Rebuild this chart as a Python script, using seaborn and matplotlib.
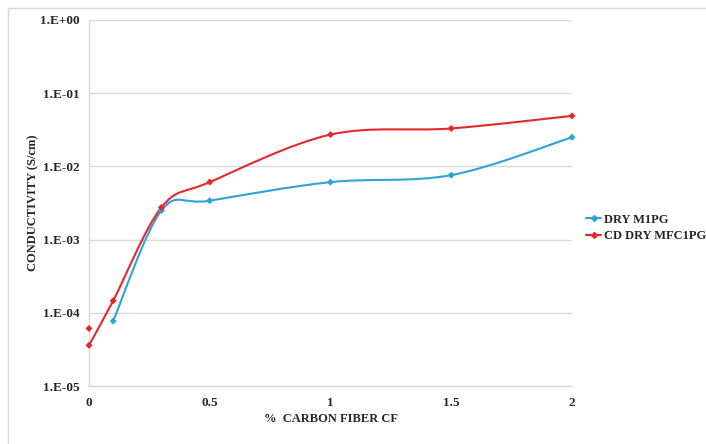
import numpy as np
import pandas as pd
import matplotlib
matplotlib.use("Agg")
import matplotlib.pyplot as plt
from matplotlib.path import Path
from matplotlib.patches import PathPatch, Rectangle
from matplotlib.lines import Line2D
from matplotlib.ticker import FixedLocator, FixedFormatter
import seaborn as sns

# data
x_m1pg = [0.1, 0.3, 0.5, 1.0, 1.5, 2.0]
y_m1pg = [7.7e-5, 2.5e-3, 3.4e-3, 6.1e-3, 7.6e-3, 2.5e-2]
x_mfc = [0.0, 0.1, 0.3, 0.5, 1.0, 1.5, 2.0]
y_mfc = [3.6e-5, 1.46e-4, 2.75e-3, 6.1e-3, 2.72e-2, 3.3e-2, 4.9e-2]
x_mfc_extra = [0.0]
y_mfc_extra = [6.1e-5]

labels = ["DRY M1PG", "CD DRY MFC1PG"]
colors = ["#2ea3d5", "#e4292b"]
yticks = [1e-5, 1e-4, 1e-3, 1e-2, 1e-1, 1e0]
ytick_labels = ["1.E-05", "1.E-04", "1.E-03", "1.E-02", "1.E-01", "1.E+00"]
xticks = [0, 0.5, 1, 1.5, 2]
xtick_labels = ["0", "0.5", "1", "1.5", "2"]


def smooth_path(xs, ys, t=1/6):
    # excel-like smoothed line: bezier segments built in (x, log y) space
    px = np.asarray(xs, float)
    py = np.log10(np.asarray(ys, float))
    n = len(px)
    verts = [(px[0], py[0])]
    codes = [Path.MOVETO]
    for i in range(n - 1):
        a = max(i - 1, 0)
        b = min(i + 2, n - 1)
        c1 = (px[i] + (px[i + 1] - px[a]) * t, py[i] + (py[i + 1] - py[a]) * t)
        c2 = (px[i + 1] - (px[b] - px[i]) * t, py[i + 1] - (py[b] - py[i]) * t)
        verts += [c1, c2, (px[i + 1], py[i + 1])]
        codes += [Path.CURVE4] * 3
    verts = [(vx, 10 ** vy) for vx, vy in verts]
    return Path(verts, codes)


sns.set_style("white")
plt.rcParams["font.family"] = ["Liberation Serif", "DejaVu Serif"]
plt.rcParams["font.weight"] = "bold"

fig = plt.figure(figsize=(7.06, 4.44), dpi=100)
ax = fig.add_axes([89 / 706, 1 - 386 / 444, (572 - 89) / 706, (386 - 20) / 444])

# outer chart frame
fig.patches.append(Rectangle((8 / 706, -0.05), 1.0, 1 - 8 / 444 + 0.05,
                             transform=fig.transFigure, fill=False,
                             edgecolor="#d9d9d9", lw=1))

ax.set_yscale("log")
ax.set_xlim(0, 2)
ax.set_ylim(1e-5, 1)

for xs, ys, c in [(x_m1pg, y_m1pg, colors[0]), (x_mfc, y_mfc, colors[1])]:
    ax.add_patch(PathPatch(smooth_path(xs, ys), facecolor="none",
                           edgecolor=c, lw=1.5, zorder=3, clip_on=False))

df = pd.concat([
    pd.DataFrame({"x": x_m1pg, "y": y_m1pg, "s": labels[0]}),
    pd.DataFrame({"x": x_mfc, "y": y_mfc, "s": labels[1]}),
    pd.DataFrame({"x": x_mfc_extra, "y": y_mfc_extra, "s": labels[1]}),
])
sns.scatterplot(data=df, x="x", y="y", hue="s", palette=colors, marker="D",
                s=13, edgecolor="none", legend=False, ax=ax, zorder=4,
                clip_on=False)

ax.yaxis.set_major_locator(FixedLocator(yticks))
ax.yaxis.set_major_formatter(FixedFormatter(ytick_labels))
ax.yaxis.set_minor_locator(FixedLocator([]))
ax.set_xticks(xticks)
ax.set_xticklabels(xtick_labels)
ax.tick_params(axis="both", length=0, labelsize=9.5)
ax.tick_params(axis="y", pad=7)
ax.tick_params(axis="x", pad=8)
for lab in ax.get_xticklabels() + ax.get_yticklabels():
    lab.set_fontweight("bold")

ax.grid(axis="y", color="#d9d9d9", lw=1)
ax.grid(axis="x", visible=False)
for side in ["top", "right"]:
    ax.spines[side].set_visible(False)
for side in ["left", "bottom"]:
    ax.spines[side].set_color("#d9d9d9")
    ax.spines[side].set_linewidth(1)

ax.set_xlabel("%  CARBON FIBER CF", fontsize=9, fontweight="bold", labelpad=3)
ax.set_ylabel("CONDUCTIVITY (S/cm)", fontsize=9, fontweight="bold", labelpad=0)

handles = [Line2D([], [], color=c, lw=1.5, marker="D", markersize=3)
           for c in colors]
fig.legend(handles, labels, loc="center left", bbox_to_anchor=(586 / 706, 1 - 228 / 444),
           frameon=False, handlelength=1.2, handletextpad=0.2, labelspacing=0.35,
           borderpad=0, borderaxespad=0, prop={"size": 9, "weight": "bold"})

fig.savefig("out.png", dpi=100)
